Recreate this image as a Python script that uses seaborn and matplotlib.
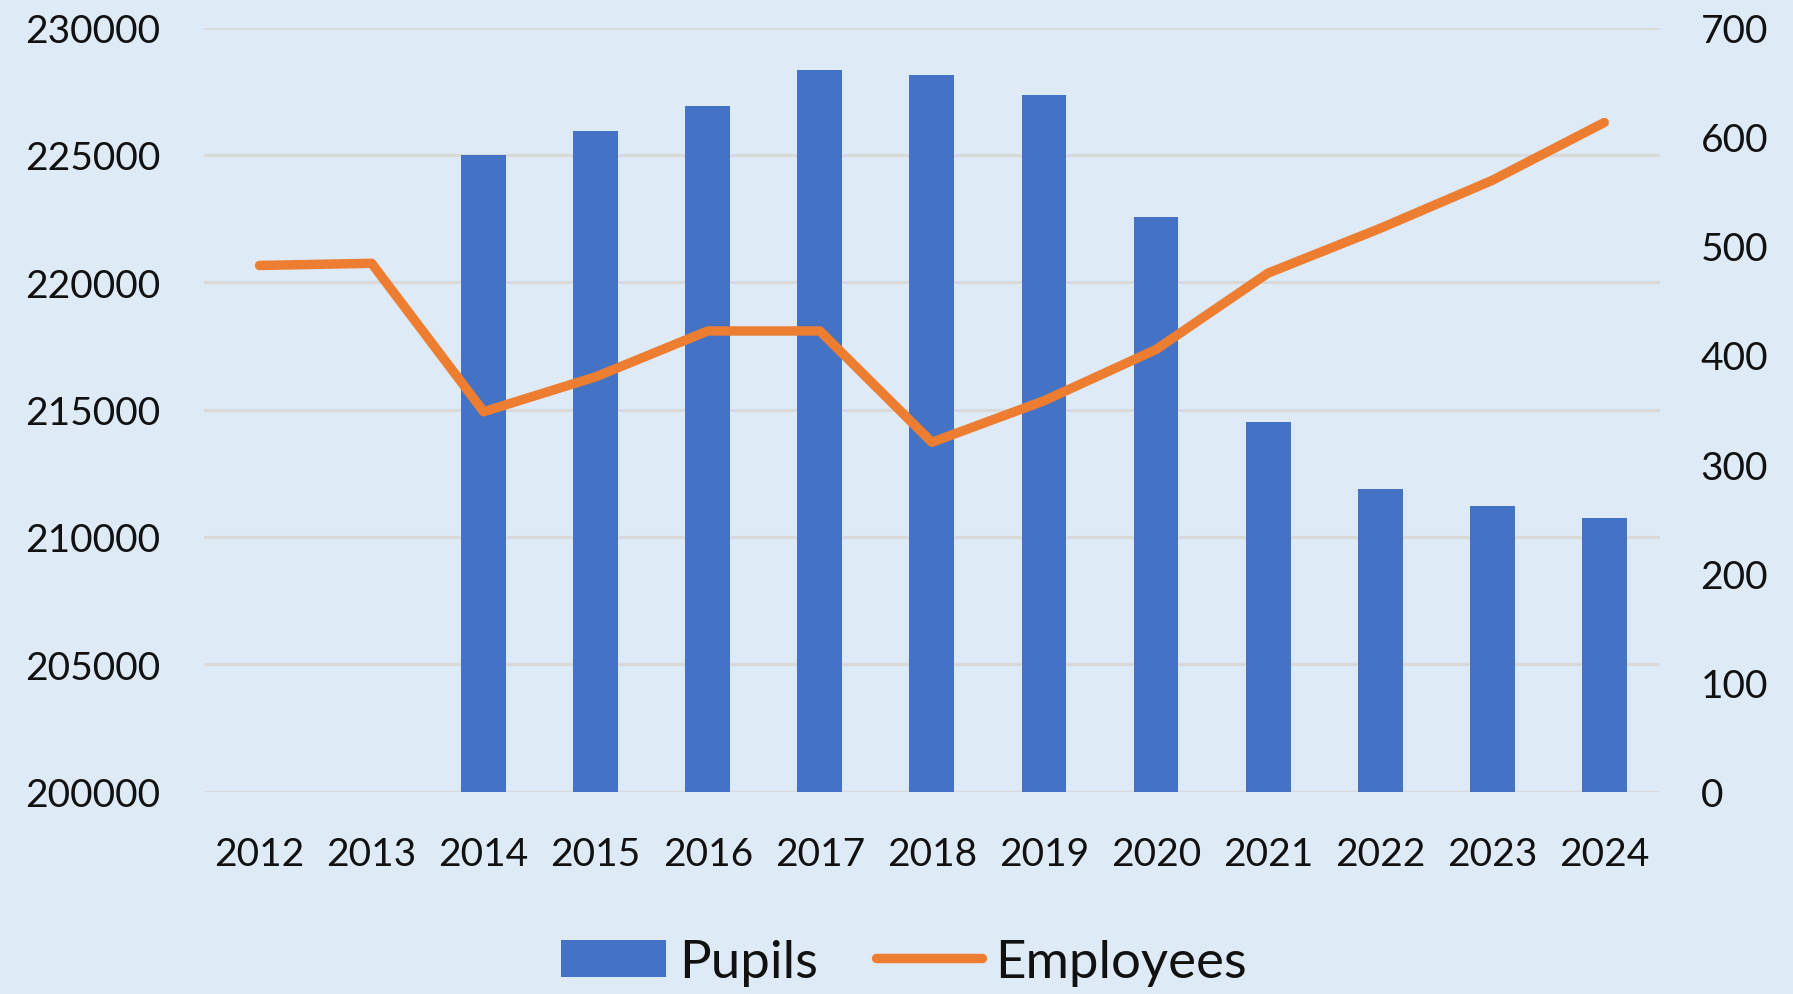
import numpy as np
import pandas as pd
import matplotlib
matplotlib.use("Agg")
import matplotlib.pyplot as plt
import seaborn as sns

years = ["2012", "2013", "2014", "2015", "2016", "2017", "2018",
         "2019", "2020", "2021", "2022", "2023", "2024"]
pupils = [np.nan, np.nan, 225000, 225950, 226900, 228320, 228130,
          227370, 222550, 214500, 211860, 211230, 210750]
employees = [482, 484, 348, 380, 422, 422, 320, 358, 405, 475, 516, 560, 613]
left_ticks = [200000, 205000, 210000, 215000, 220000, 225000, 230000]
right_ticks = [0, 100, 200, 300, 400, 500, 600, 700]

BG = "#DEEAF6"
BAR = "#4472C4"
LINE = "#ED7D31"
GRID = "#D9D9D9"

sns.set_theme(style="white")
plt.rcParams["font.family"] = ["Lato", "DejaVu Sans"]

df = pd.DataFrame({"Year": years, "Pupils": pupils, "Employees": employees})

fig = plt.figure(figsize=(17.93, 9.95), dpi=100, facecolor=BG)
ax = fig.add_axes([0.1135, 0.2035, 0.8125, 0.7678])
ax.set_facecolor(BG)

sns.barplot(data=df, x="Year", y="Pupils", order=years, color=BAR,
            width=0.4, saturation=1, ax=ax, label="Pupils", linewidth=0)
ax.set_ylim(200000, 230000)
ax.set_yticks(left_ticks)
ax.set_xlim(-0.5, len(years) - 0.5)
ax.yaxis.grid(True, color=GRID, linewidth=2.2)
ax.set_axisbelow(True)
ax.set_xlabel("")
ax.set_ylabel("")

ax2 = ax.twinx()
sns.lineplot(data=df, x="Year", y="Employees", color=LINE, linewidth=6.8,
             ax=ax2, label="Employees", solid_capstyle="round")
ax2.set_ylim(0, 700)
ax2.set_yticks(right_ticks)
ax2.set_xlim(-0.5, len(years) - 0.5)
ax2.set_ylabel("")
ax2.grid(False)
if ax2.get_legend() is not None:
    ax2.get_legend().remove()
if ax.get_legend() is not None:
    ax.get_legend().remove()

for a in (ax, ax2):
    for s in a.spines.values():
        s.set_visible(False)
    a.tick_params(length=0, labelsize=28, labelcolor="#111111")

ax.tick_params(axis="y", pad=31)
ax.tick_params(axis="x", pad=32)
ax2.tick_params(axis="y", pad=29)

h1 = ax.containers[0].patches[2]
h2 = ax2.lines[0]
leg = fig.legend([h1, h2], ["Pupils", "Employees"], loc="center",
                 bbox_to_anchor=(0.504, 0.032), ncol=2, frameon=False,
                 fontsize=38, handlelength=2.0, handleheight=0.7,
                 handletextpad=0.25, columnspacing=1.1)
for t in leg.get_texts():
    t.set_color("#111111")

fig.savefig("out.png", dpi=100, facecolor=BG)
